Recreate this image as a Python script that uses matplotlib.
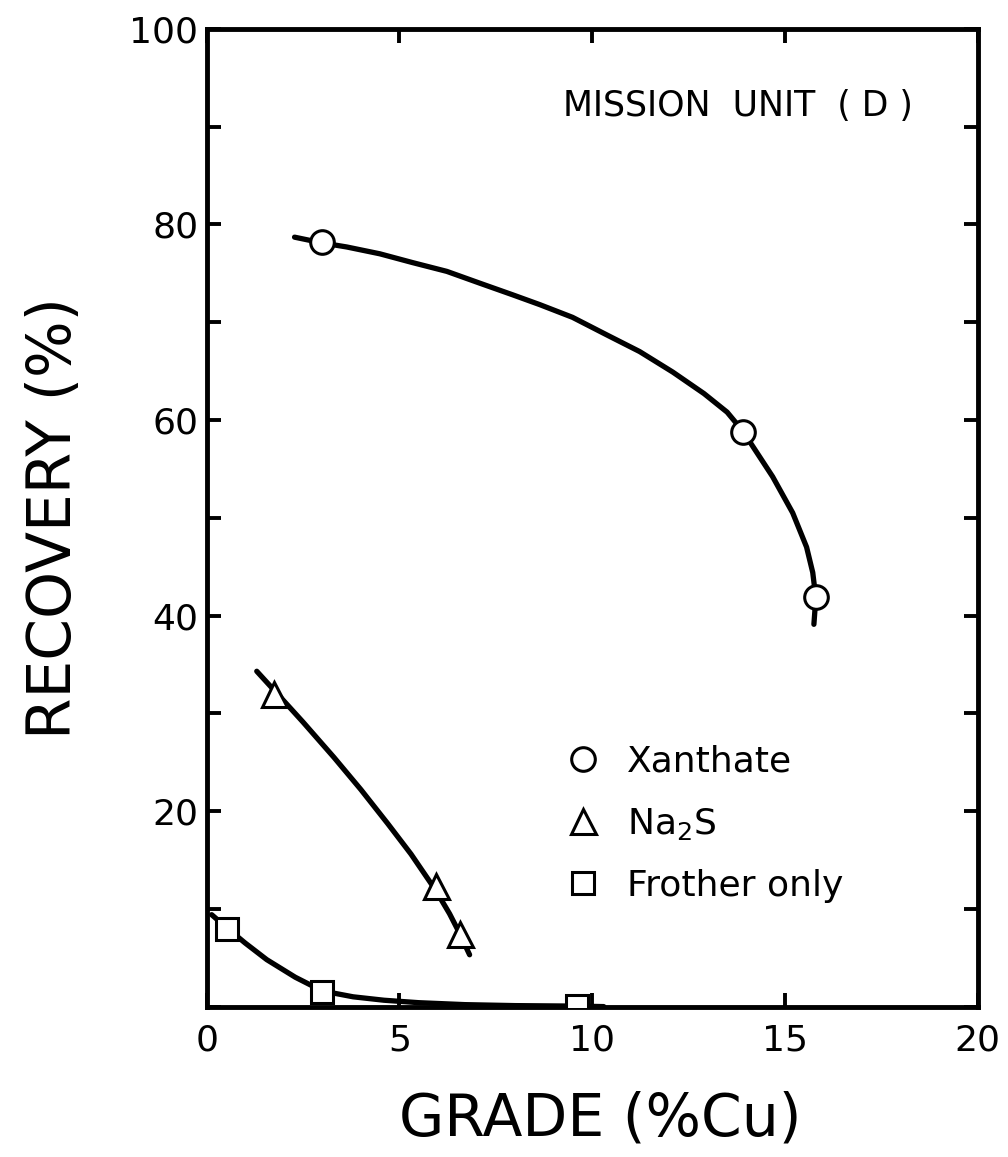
import matplotlib.pyplot as plt

plt.rcParams['font.family'] = ['DejaVu Sans']
plt.rcParams['mathtext.default'] = 'regular'

# measured points
xan_grade = [3.0, 13.9, 15.8]
xan_rec = [78.2, 58.8, 41.9]
na2s_grade = [1.74, 5.94, 6.56]
na2s_rec = [32.0, 12.3, 7.4]
froth_grade = [0.54, 3.0, 9.6]
froth_rec = [7.9, 1.5, 0.1]

# hand-drawn trend curves
xan_curve_x = [2.28, 3.01, 3.63, 4.49, 5.34, 6.23, 7.08, 7.94, 8.64, 9.49, 10.38,
               11.23, 12.09, 12.9, 13.5, 13.9, 14.68, 15.2, 15.56, 15.72, 15.8, 15.75]
xan_curve_y = [78.7, 78.1, 77.7, 77.0, 76.1, 75.2, 74.0, 72.8, 71.8, 70.5, 68.7,
               67.0, 64.9, 62.7, 60.8, 58.9, 54.2, 50.5, 47.0, 44.4, 41.8, 39.1]
na2s_curve_x = [1.3, 1.74, 2.5, 3.3, 4.0, 4.7, 5.3, 5.94, 6.3, 6.56, 6.82]
na2s_curve_y = [34.3, 32.4, 29.1, 25.5, 22.2, 18.7, 15.6, 11.9, 9.5, 7.5, 5.3]
froth_curve_x = [0.13, 0.54, 1.0, 1.56, 2.3, 3.0, 3.8, 4.6, 5.5, 6.7, 8.0, 9.6, 10.3]
froth_curve_y = [9.4, 8.0, 6.5, 4.8, 3.0, 1.6, 1.0, 0.65, 0.4, 0.2, 0.1, 0.05, 0.0]

fig = plt.figure(figsize=(10.08, 11.57), dpi=100)
ax = fig.add_axes([0.205, 0.130, 0.765, 0.845])

# curves
for cx, cy in [(xan_curve_x, xan_curve_y), (na2s_curve_x, na2s_curve_y),
               (froth_curve_x, froth_curve_y)]:
    ax.plot(cx, cy, color='black', lw=3.8, solid_capstyle='round',
            solid_joinstyle='round', zorder=2)

# markers
mk = dict(ls='none', mfc='white', mec='black', mew=2.2, zorder=3)
ax.plot(xan_grade, xan_rec, marker='o', ms=17, label='Xanthate', **mk)
ax.plot(na2s_grade, na2s_rec, marker='^', ms=18, label='Na$_2$S', **mk)
ax.plot(froth_grade, froth_rec, marker='s', ms=16, label='Frother only', **mk)

ax.set_xlim(0, 20)
ax.set_ylim(0, 100)
ax.set_xticks([0, 5, 10, 15, 20])
ax.set_yticks(range(0, 101, 10))
ax.set_yticklabels(['' if (v % 20 or v == 0) else str(v) for v in range(0, 101, 10)])

for s in ax.spines.values():
    s.set_linewidth(3.5)
ax.tick_params(direction='in', length=10, width=2.8, labelsize=26,
               top=True, right=True)
ax.tick_params(axis='x', pad=12)
ax.tick_params(axis='y', pad=6)

ax.set_xlabel('GRADE (%Cu)', fontsize=42)
ax.set_ylabel('RECOVERY (%)', fontsize=43)
ax.xaxis.set_label_coords(0.51, -0.086)
ax.yaxis.set_label_coords(-0.159, 0.5)

ax.text(0.462, 0.921, 'MISSION  UNIT  ( D )', transform=ax.transAxes,
        fontsize=25, va='center', ha='left')

ax.legend(loc='upper left', bbox_to_anchor=(0.466, 0.268), frameon=False,
          fontsize=26, borderpad=0, handlelength=0.95, handletextpad=0.75,
          labelspacing=0.75, borderaxespad=0)

fig.savefig('out.png', dpi=100)
